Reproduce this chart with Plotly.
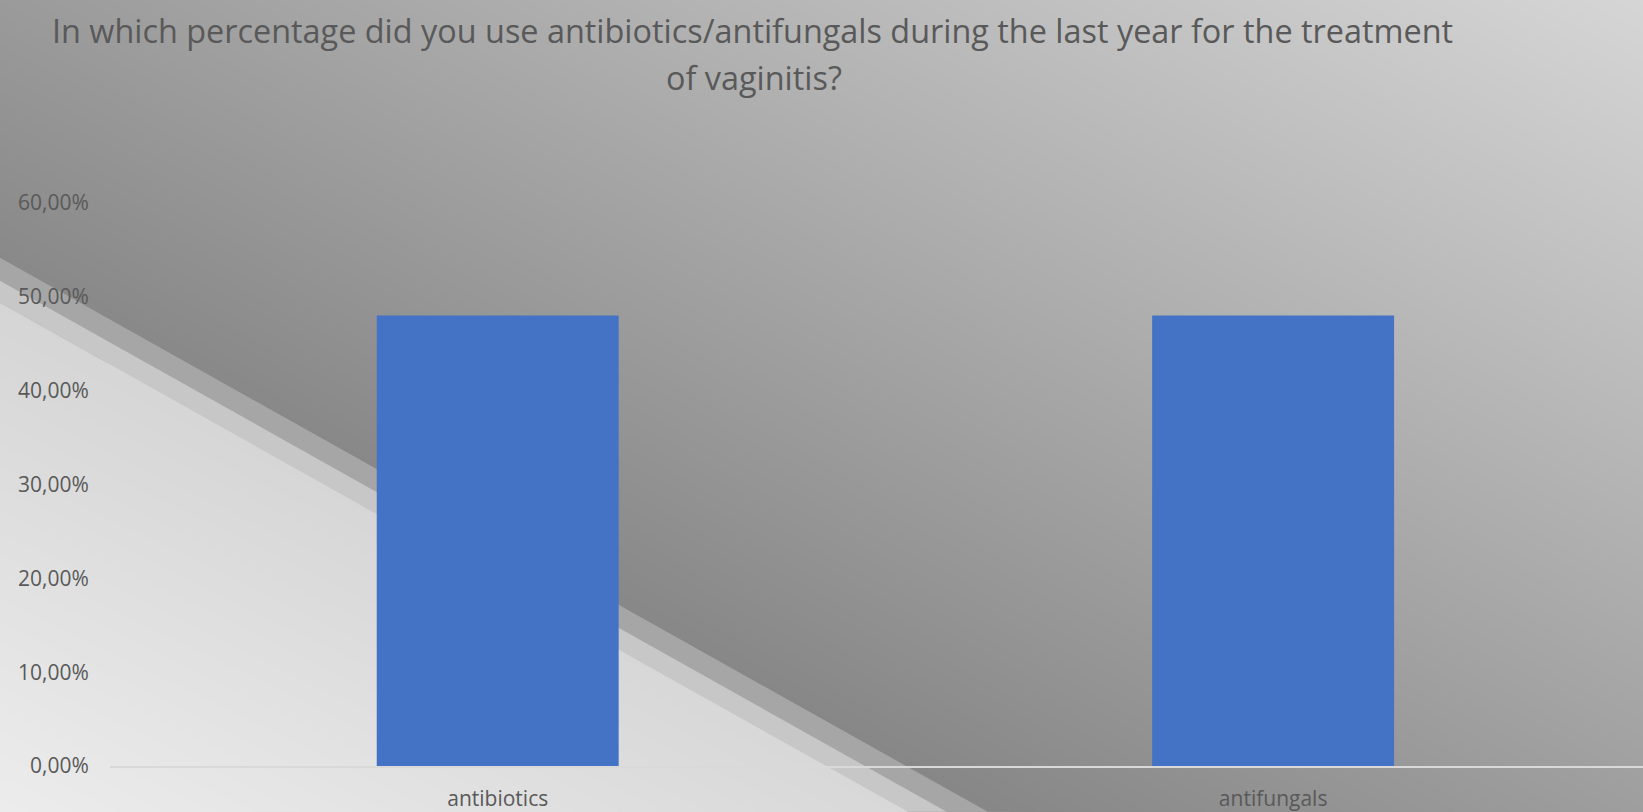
import plotly.graph_objects as go

# ---------------- data ----------------
categories = ["antibiotics", "antifungals"]
values = [0.48, 0.48]
y_tick_values = [0.0, 0.1, 0.2, 0.3, 0.4, 0.5, 0.6]
title_line1 = "In which percentage did you use antibiotics/antifungals during the last year for the treatment"
title_line2 = "of vaginitis?"

# ---------------- geometry ----------------
W, H = 1643, 812
L, R, T, B = 110, 0, 203, 44
PW, PH = W - L - R, H - T - B


def to_paper(x, y):
    return (x - L) / PW, 1 - (y - T) / PH


def clip(poly, a, b, c):
    """keep part of polygon where a*x + b*y + c >= 0"""
    out = []
    n = len(poly)
    for i in range(n):
        P = poly[i]
        Q = poly[(i + 1) % n]
        fp = a * P[0] + b * P[1] + c
        fq = a * Q[0] + b * Q[1] + c
        if fp >= 0:
            out.append(P)
        if (fp >= 0) != (fq >= 0):
            t = fp / (fp - fq)
            out.append((P[0] + t * (Q[0] - P[0]), P[1] + t * (Q[1] - P[1])))
    return out


def path_of(poly):
    pts = [to_paper(x, y) for x, y in poly]
    return "M " + " L ".join(f"{px:.5f},{py:.5f}" for px, py in pts) + " Z"


def gray(v):
    v = int(round(max(0, min(255, v))))
    return f"rgb({v},{v},{v})"


shapes = []


def add_poly(poly, color):
    if len(poly) >= 3:
        shapes.append(dict(type="path", xref="paper", yref="paper", path=path_of(poly),
                           fillcolor=color, line=dict(width=0), layer="below"))


rect = [(-2, -2), (W + 2, -2), (W + 2, H + 2), (-2, H + 2)]
slope = 0.563
edges = [258, 281, 303]  # y-intercepts of the three diagonal band edges


def above(poly, y0):
    return clip(poly, slope, -1, y0)


def below(poly, y0):
    return clip(poly, -slope, 1, -y0)


# dark gradient region
dark = above(rect, edges[0])
da, db, dc = 0.036, -0.068, 155
vals = [da * x + db * y + dc for x, y in dark]
vmin, vmax = int(min(vals)), int(max(vals)) + 1
add_poly(dark, gray(vmin))
for k in range(vmin + 1, vmax + 1):
    add_poly(clip(dark, da, db, dc - k), gray(k))

# mid band
add_poly(below(above(rect, edges[1]), edges[0]), gray(166))
# light band
add_poly(below(above(rect, edges[2]), edges[1]), gray(199))

# light region gradient
light = below(rect, edges[2])
la, lb, lc = -0.022, 0.045, 200
vals = [la * x + lb * y + lc for x, y in light]
vmin, vmax = int(min(vals)), int(max(vals)) + 1
add_poly(light, gray(vmin))
for k in range(vmin + 1, vmax + 1):
    add_poly(clip(light, la, lb, lc - k), gray(k))

# ---------------- figure ----------------
fig = go.Figure()
fig.add_trace(go.Bar(x=categories, y=values, width=0.312,
                     marker=dict(color="#4472C4", line=dict(width=0))))

t1x, t1y = to_paper(752, 29)
t2x, t2y = to_paper(754, 77)

fig.update_layout(
    width=W, height=H,
    margin=dict(l=L, r=R, t=T, b=B, pad=0),
    paper_bgcolor="#a0a0a0",
    plot_bgcolor="rgba(0,0,0,0)",
    separators=",.",
    showlegend=False,
    shapes=shapes,
    font=dict(family="Open Sans", color="#595959"),
    annotations=[
        dict(text=title_line1, x=t1x, y=t1y, xref="paper", yref="paper", showarrow=False,
             xanchor="center", yanchor="middle", font=dict(size=32.4, color="#595959", family="Open Sans")),
        dict(text=title_line2, x=t2x, y=t2y, xref="paper", yref="paper", showarrow=False,
             xanchor="center", yanchor="middle", font=dict(size=32.4, color="#595959", family="Open Sans")),
    ],
    xaxis=dict(range=[-0.5, 1.477], showgrid=False, zeroline=False, showline=True,
               linecolor="#d9d9d9", linewidth=2, ticks="outside", ticklen=13,
               tickcolor="rgba(0,0,0,0)", tickfont=dict(size=21, color="#595959", family="Open Sans")),
    yaxis=dict(range=[0, 0.6], tickvals=y_tick_values, tickformat=".2%", showgrid=False,
               zeroline=False, showline=False, ticks="outside", ticklen=16,
               tickcolor="rgba(0,0,0,0)", tickfont=dict(size=21, color="#595959", family="Open Sans")),
)

fig.write_html("out.html", post_script="document.body.style.margin='0';",
               config={"displayModeBar": False})
